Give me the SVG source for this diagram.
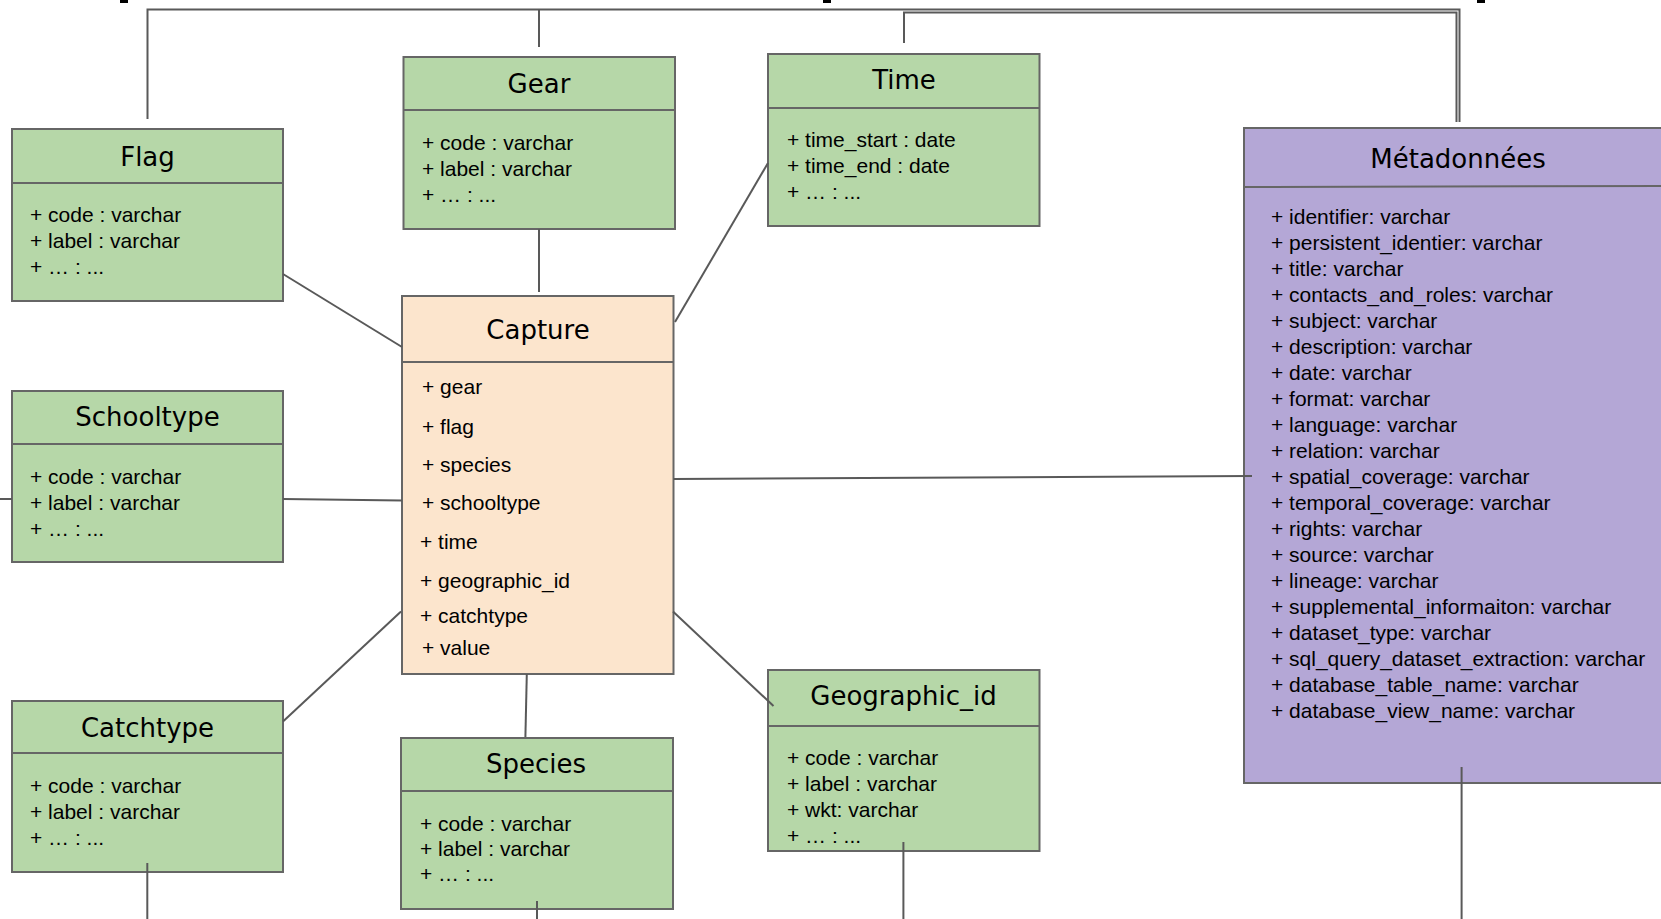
<svg xmlns="http://www.w3.org/2000/svg" width="1661" height="919" viewBox="0 0 1661 919">
<style>
.box{stroke:#666666;stroke-width:2}
.g{fill:#b6d7a8}
.o{fill:#fce5cd}
.p{fill:#b4a7d6}
.sep{stroke:#666666;stroke-width:2}
.t{font-family:"DejaVu Sans","Open Sans",sans-serif;font-size:26px;fill:#000;text-anchor:middle}
.a{font-family:"Liberation Sans",Arial,sans-serif;font-size:21px;fill:#000}
.c{fill:none;stroke:#595959;stroke-width:2}
</style>
<rect width="1661" height="919" fill="#ffffff"/>
<g id="marks" fill="#000">
<rect x="120" y="0" width="8" height="3"/>
<rect x="823" y="0" width="8" height="3"/>
<rect x="1477" y="0" width="8" height="3"/>
</g>
<g id="flag">
<rect class="box g" x="12" y="129" width="271" height="172"/>
<line class="sep" x1="12" y1="183" x2="283" y2="183"/>
<text class="t" x="147.5" y="166">Flag</text>
<text class="a" x="30" y="222">+ code : varchar</text>
<text class="a" x="30" y="248">+ label : varchar</text>
<text class="a" x="30" y="274">+ … : ...</text>
</g>
<g id="gear">
<rect class="box g" x="403.5" y="57" width="271.5" height="172"/>
<line class="sep" x1="403.5" y1="110" x2="675" y2="110"/>
<text class="t" x="539" y="93">Gear</text>
<text class="a" x="422" y="150">+ code : varchar</text>
<text class="a" x="422" y="176">+ label : varchar</text>
<text class="a" x="422" y="202">+ … : ...</text>
</g>
<g id="time">
<rect class="box g" x="768" y="54" width="271.5" height="172"/>
<line class="sep" x1="768" y1="108" x2="1039.5" y2="108"/>
<text class="t" x="904" y="89">Time</text>
<text class="a" x="787" y="147">+ time_start : date</text>
<text class="a" x="787" y="173">+ time_end : date</text>
<text class="a" x="787" y="199">+ … : ...</text>
</g>
<g id="capture">
<rect class="box o" x="402" y="296" width="271.5" height="378"/>
<line class="sep" x1="402" y1="362" x2="673.5" y2="362"/>
<text class="t" x="538" y="339">Capture</text>
<text class="a" x="422" y="394">+ gear</text>
<text class="a" x="422" y="434">+ flag</text>
<text class="a" x="422" y="472">+ species</text>
<text class="a" x="422" y="510">+ schooltype</text>
<text class="a" x="420" y="549">+ time</text>
<text class="a" x="420" y="588">+ geographic_id</text>
<text class="a" x="420" y="623">+ catchtype</text>
<text class="a" x="422" y="655">+ value</text>
</g>
<g id="schooltype">
<rect class="box g" x="12" y="391" width="271" height="171"/>
<line class="sep" x1="12" y1="444" x2="283" y2="444"/>
<text class="t" x="147.5" y="426">Schooltype</text>
<text class="a" x="30" y="484">+ code : varchar</text>
<text class="a" x="30" y="510">+ label : varchar</text>
<text class="a" x="30" y="536">+ … : ...</text>
</g>
<g id="catchtype">
<rect class="box g" x="12" y="701" width="271" height="171"/>
<line class="sep" x1="12" y1="753" x2="283" y2="753"/>
<text class="t" x="147.5" y="737">Catchtype</text>
<text class="a" x="30" y="793">+ code : varchar</text>
<text class="a" x="30" y="819">+ label : varchar</text>
<text class="a" x="30" y="845">+ … : ...</text>
</g>
<g id="species">
<rect class="box g" x="401" y="738" width="272" height="171"/>
<line class="sep" x1="401" y1="791" x2="673" y2="791"/>
<text class="t" x="536" y="773">Species</text>
<text class="a" x="420" y="831">+ code : varchar</text>
<text class="a" x="420" y="856">+ label : varchar</text>
<text class="a" x="420" y="881">+ … : ...</text>
</g>
<g id="geographic_id">
<rect class="box g" x="768" y="670" width="271.5" height="181"/>
<line class="sep" x1="768" y1="726" x2="1039.5" y2="726"/>
<text class="t" x="903.5" y="705">Geographic_id</text>
<text class="a" x="787" y="765">+ code : varchar</text>
<text class="a" x="787" y="791">+ label : varchar</text>
<text class="a" x="787" y="817">+ wkt: varchar</text>
<text class="a" x="787" y="843">+ … : ...</text>
</g>
<g id="metadonnees">
<rect class="box p" x="1244" y="128" width="430" height="655"/>
<line class="sep" x1="1244" y1="187" x2="1674" y2="186"/>
<text class="t" x="1458" y="168">Métadonnées</text>
<text class="a" x="1271" y="224">+ identifier: varchar</text>
<text class="a" x="1271" y="250">+ persistent_identier: varchar</text>
<text class="a" x="1271" y="276">+ title: varchar</text>
<text class="a" x="1271" y="302">+ contacts_and_roles: varchar</text>
<text class="a" x="1271" y="328">+ subject: varchar</text>
<text class="a" x="1271" y="354">+ description: varchar</text>
<text class="a" x="1271" y="380">+ date: varchar</text>
<text class="a" x="1271" y="406">+ format: varchar</text>
<text class="a" x="1271" y="432">+ language: varchar</text>
<text class="a" x="1271" y="458">+ relation: varchar</text>
<text class="a" x="1271" y="484">+ spatial_coverage: varchar</text>
<text class="a" x="1271" y="510">+ temporal_coverage: varchar</text>
<text class="a" x="1271" y="536">+ rights: varchar</text>
<text class="a" x="1271" y="562">+ source: varchar</text>
<text class="a" x="1271" y="588">+ lineage: varchar</text>
<text class="a" x="1271" y="614">+ supplemental_informaiton: varchar</text>
<text class="a" x="1271" y="640">+ dataset_type: varchar</text>
<text class="a" x="1271" y="666">+ sql_query_dataset_extraction: varchar</text>
<text class="a" x="1271" y="692">+ database_table_name: varchar</text>
<text class="a" x="1271" y="718">+ database_view_name: varchar</text>
</g>
<g id="connectors">
<path class="c" d="M147.5,119 V9.5 H1459.5 V122"/>
<path class="c" d="M539,47 V9.5"/>
<path class="c" d="M904,43 V12.5 H1456.5 V122"/>
<path class="c" d="M283,274 L402,347"/>
<path class="c" d="M539,229 V292"/>
<path class="c" d="M768,163 L675,322"/>
<path class="c" d="M283,499 L402,500.5"/>
<path class="c" d="M0,499 H12"/>
<path class="c" d="M283,721.5 L401,611.5"/>
<path class="c" d="M526.8,674 L525.4,737"/>
<path class="c" d="M673,611.5 L773.5,706"/>
<path class="c" d="M673.5,479 L1252,476"/>
<path class="c" d="M147.3,863 V919"/>
<path class="c" d="M537,901 V919"/>
<path class="c" d="M903.4,842 V919"/>
<path class="c" d="M1461.6,767 V919"/>
</g>
</svg>
